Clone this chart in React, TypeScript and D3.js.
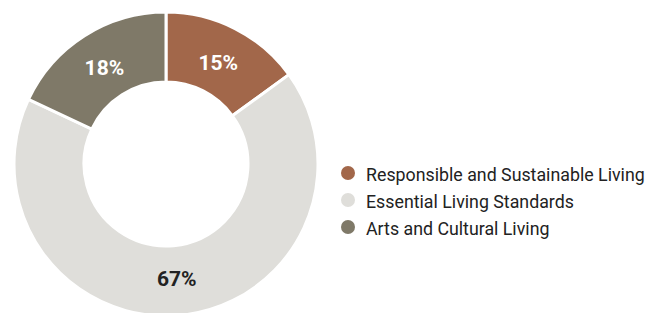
import React from "react";
import * as d3 from "d3";

const categories = ["Responsible and Sustainable Living", "Essential Living Standards", "Arts and Cultural Living"];
const values = [15, 67, 18];
const colors = ["#A2674A", "#DFDEDA", "#7F7968"];
const labelColors = ["#ffffff", "#222222", "#ffffff"];

export default function App() {
  const W = 652, H = 313;
  const cx = 166, cy = 164, rOuter = 152, rInner = 82;
  const pie = d3.pie<number>().sort(null).value((d) => d)(values);
  const arc = d3.arc<d3.PieArcDatum<number>>().innerRadius(rInner).outerRadius(rOuter);
  const labelArc = d3.arc<d3.PieArcDatum<number>>().innerRadius(rInner).outerRadius(rOuter - 4);
  const legendY = d3.scalePoint<string>().domain(categories).range([173, 227]);
  return (
    <svg width={W} height={H} style={{ position: "absolute", left: 0, top: 0 }} fontFamily="Roboto, Inter, sans-serif">
      <g transform={`translate(${cx},${cy})`}>
        {pie.map((p, i) => (
          <path key={i} d={arc(p) || ""} fill={colors[i]} stroke="#ffffff" strokeWidth={3} />
        ))}
        {pie.map((p, i) => {
          const [x, y] = labelArc.centroid(p);
          return (
            <text key={i} x={x} y={y} dy={1} textAnchor="middle" dominantBaseline="central" fontSize={21} fontWeight={700} fill={labelColors[i]}>
              {`${values[i]}%`}
            </text>
          );
        })}
      </g>
      {categories.map((c, i) => (
        <g key={c} transform={`translate(0,${legendY(c)})`}>
          <circle cx={348} cy={0} r={7} fill={colors[i]} />
          <text x={366} y={0} dy={1} dominantBaseline="central" fontSize={17.8} fill="#222">{c}</text>
        </g>
      ))}
    </svg>
  );
}
